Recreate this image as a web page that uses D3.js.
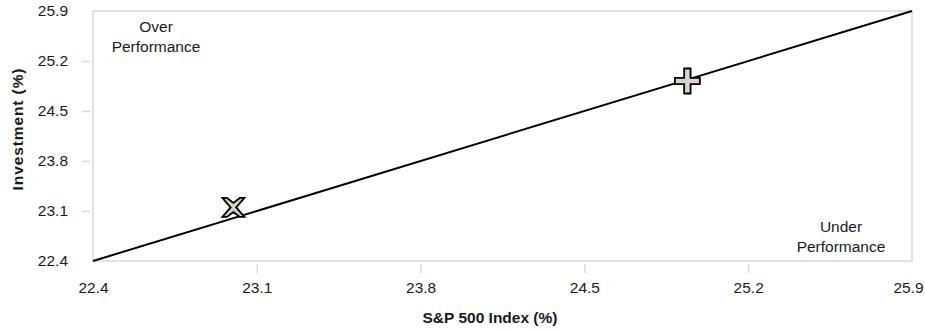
<!DOCTYPE html>
<html>
<head>
<meta charset="utf-8">
<script src="https://cdn.jsdelivr.net/npm/d3@7"></script>
<style>
  html, body { margin: 0; padding: 0; background: #fff; }
  svg text { font-family: "Liberation Sans", Arial, sans-serif; fill: #1a1a1a; }
</style>
</head>
<body>
<svg id="chart" width="925" height="332"></svg>
<script>
// Axis range and tick values (both axes share the same scale, in %)
const tickValues = [22.4, 23.1, 23.8, 24.5, 25.2, 25.9];
const domainMin = 22.4;
const domainMax = 25.9;

// Reference line: equal performance
const diagonal = [[22.4, 22.4], [25.9, 25.9]];

// Portfolio points: [S&P 500 Index %, Investment %]
const pointNames = ["plus", "cross"];
const pointX = [24.94, 23.00];
const pointY = [24.92, 23.15];

const svg = d3.select("#chart");
const margin = { left: 93, right: 13, top: 11, bottom: 71 };
const W = 925, H = 332;
const fontSize = 15.5;

const x = d3.scaleLinear().domain([domainMin, domainMax]).range([margin.left, W - margin.right]);
const y = d3.scaleLinear().domain([domainMin, domainMax]).range([H - margin.bottom, margin.top]);

const gridColor = "#d9d9d9";

// Plot frame
svg.append("rect")
  .attr("x", x(domainMin)).attr("y", y(domainMax))
  .attr("width", x(domainMax) - x(domainMin))
  .attr("height", y(domainMin) - y(domainMax))
  .attr("fill", "none").attr("stroke", gridColor).attr("stroke-width", 1.5);

// X axis
const xAxis = svg.append("g")
  .attr("transform", `translate(0,${y(domainMin)})`)
  .call(d3.axisBottom(x).tickValues(tickValues).tickFormat(d3.format(".1f")).tickSize(0).tickPadding(21));
xAxis.select(".domain").remove();
xAxis.selectAll("text").attr("font-size", fontSize).attr("fill", "#1a1a1a");
// keep the last label inside the canvas
xAxis.selectAll(".tick").filter(d => d === domainMax).select("text").attr("dx", -4);
xAxis.selectAll(".tick").filter(d => d !== domainMin && d !== domainMax)
  .append("line").attr("y1", 3).attr("y2", 12).attr("stroke", gridColor).attr("stroke-width", 1.5);

// Y axis
const yAxis = svg.append("g")
  .attr("transform", `translate(${x(domainMin)},0)`)
  .call(d3.axisLeft(y).tickValues(tickValues).tickFormat(d3.format(".1f")).tickSize(0).tickPadding(25));
yAxis.select(".domain").remove();
yAxis.selectAll("text").attr("font-size", fontSize).attr("fill", "#1a1a1a");
yAxis.selectAll(".tick").filter(d => d !== domainMin && d !== domainMax)
  .append("line").attr("x1", -3).attr("x2", -11).attr("stroke", gridColor).attr("stroke-width", 1.5);

// Axis titles
svg.append("text")
  .attr("x", 490).attr("y", 323)
  .attr("text-anchor", "middle").attr("font-size", fontSize).attr("font-weight", "bold")
  .text("S&P 500 Index (%)");

svg.append("text")
  .attr("transform", `translate(23,129) rotate(-90)`)
  .attr("text-anchor", "middle").attr("font-size", fontSize).attr("font-weight", "bold")
  .attr("letter-spacing", 0.9)
  .text("Investment (%)");

// Diagonal line
svg.append("path")
  .attr("d", d3.line().x(d => x(d[0])).y(d => y(d[1]))(diagonal))
  .attr("fill", "none").attr("stroke", "#000").attr("stroke-width", 2);

// Region annotations
const note = (cx, lines, top) => {
  const t = svg.append("text").attr("text-anchor", "middle").attr("font-size", fontSize);
  lines.forEach((s, i) => t.append("tspan").attr("x", cx).attr("y", top + i * 20).text(s));
};
note(156, ["Over", "Performance"], 32);
note(841, ["Under", "Performance"], 232);

// Markers
const markerFill = "#d9d2c5";
const plusPath = (() => {
  const a = 12.5, b = 3.2;
  return `M${-b},${-a}H${b}V${-b}H${a}V${b}H${b}V${a}H${-b}V${b}H${-a}V${-b}H${-b}Z`;
})();
const crossPath = (() => {
  // An X built from two thick diagonal bars
  const hw = 11, hh = 9.5, t = 2.3;
  return `M${-hw},${-hh}L${-hw + 2 * t},${-hh}L0,${-hh + 2 * t * hh / hw + 1}L${hw - 2 * t},${-hh}L${hw},${-hh}` +
         `L${t * 1.2},0L${hw},${hh}L${hw - 2 * t},${hh}L0,${hh - 2 * t * hh / hw - 1}L${-hw + 2 * t},${hh}L${-hw},${hh}L${-t * 1.2},0Z`;
})();
const shapes = { plus: plusPath, cross: crossPath };

svg.selectAll("path.marker")
  .data(pointNames.map((n, i) => ({ n, px: pointX[i], py: pointY[i] })))
  .enter().append("path")
  .attr("class", "marker")
  .attr("transform", d => `translate(${x(d.px)},${y(d.py)})`)
  .attr("d", d => shapes[d.n])
  .attr("fill", markerFill).attr("stroke", "#000").attr("stroke-width", 1.8)
  .attr("stroke-linejoin", "miter");
</script>
</body>
</html>
